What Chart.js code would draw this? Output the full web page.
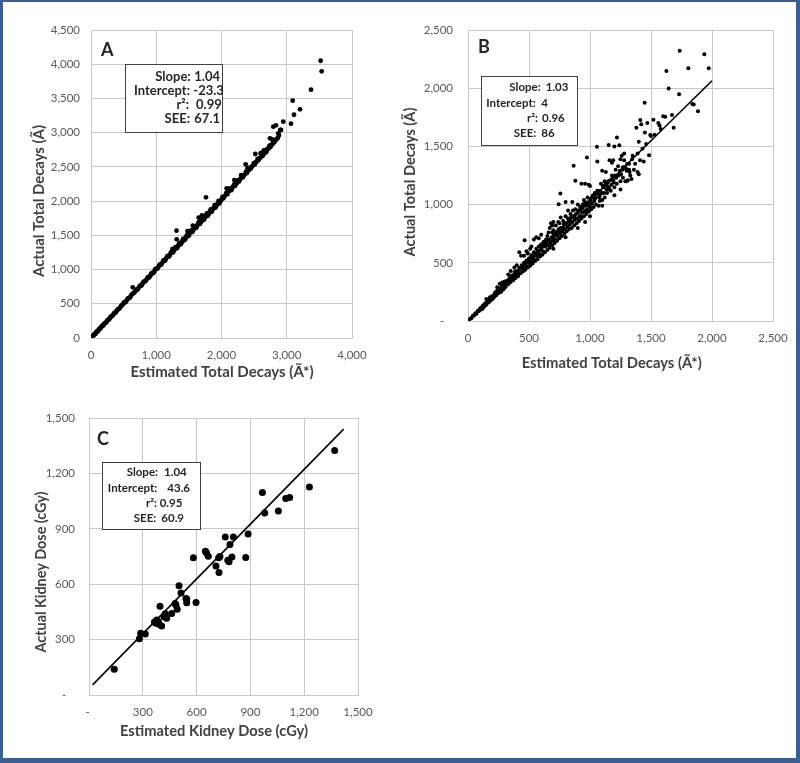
<!DOCTYPE html>
<html>
<head>
<meta charset="utf-8">
<script src="https://cdn.jsdelivr.net/npm/chart.js@4.4.0/dist/chart.umd.min.js"></script>
<style>
  html, body { margin: 0; padding: 0; background: #fff; }
  #wrap { position: relative; width: 800px; height: 763px; overflow: hidden; background: #fff; }
  .pane { position: absolute; }
  #frame { position: absolute; left: 0; top: 0; width: 800px; height: 763px; box-sizing: border-box;
           border-style: solid; border-color: #3c5e93; border-width: 2px 4px 5px 3px; pointer-events: none; }
</style>
</head>
<body>
<div id="wrap">
  <div class="pane" style="left:0;top:0;width:390px;height:385px"><canvas id="chartA"></canvas></div>
  <div class="pane" style="left:400px;top:0;width:400px;height:385px"><canvas id="chartB"></canvas></div>
  <div class="pane" style="left:0;top:385px;width:390px;height:378px"><canvas id="chartC"></canvas></div>
  <div id="frame"></div>
</div>
<script>
// panel A: estimated vs actual total decays
const aEst = [25,40,55,70,90,110,130,150,170,190,210,235,260,285,310,335,360,385,410,440,
  470,500,530,560,590,620,650,680,710,740,770,800,830,860,890,920,950,980,1010,1040,
  1070,1100,1130,1160,1190,1220,1250,1280,1310,1340,1370,1400,1430,1460,1490,1520,1550,1580,1610,1640,
  1670,1700,1730,1760,1790,1820,1850,1880,1910,1940,1970,2000,2030,2060,2090,2120,2150,2180,2210,2240,
  2270,2300,2330,2360,2390,2420,2450,2480,2510,2540,2570,2600,2630,2660,2690,2720,2750,2780,2810,2840,
  640,1310,1313,1762,2079,2196,2370,2518,2641,2743,2794,2835,2912,2947,3065,3111,3091,3203,3372,3519,
  3535,1250,1480,1560,1650,1700,2100,2300,2400,2600,2650,2700,2880,2900,2860,2780,2870,
  48,63,80,100,120,140,160,180,200,222,248,272,298,322,348,372,398,425,455,485,
  515,545,575,605,635,665,695,725,755,785,815,845,875,905,935,965,995,1025,1055,1085,
  1115,1145,1175,1205,1235,1265,1295,1325,1355,1385,1415,1445,1475,1505,1535,1565,1595,1625,1655,1685,
  1715,1745,1775,1805,1835,1865,1895,1925,1955,1985,2015,2045,2075,2105,2135,2165,2195,2225,2255,2285,
  2315,2345,2375,2405,2435,2465,2495,2525,2555,2585,2615,2645,2675,2705,2735,2765,2795];
const aAct = [28,38,57,66,92,106,133,147,175,186,214,231,265,282,318,331,366,380,418,436,
  478,512,524,571,586,628,655,688,706,752,765,812,826,872,884,935,946,1002,1008,1052,
  1068,1115,1126,1178,1188,1240,1246,1300,1306,1362,1366,1421,1427,1484,1488,1546,1549,1610,1608,1672,
  1666,1735,1726,1790,1786,1846,1844,1902,1905,1962,1966,2025,2040,2085,2102,2150,2160,2212,2226,2270,
  2288,2335,2350,2395,2410,2455,2475,2520,2535,2580,2600,2640,2660,2700,2720,2770,2790,2830,2860,2900,
  740,1568,1442,2056,2187,2308,2538,2688,2722,2918,3087,3107,3039,3160,3131,3262,3467,3341,3628,4051,
  3896,1300,1560,1640,1760,1790,2180,2380,2480,2700,2740,2760,2960,3040,2920,2900,2990,
  50,60,84,97,124,139,165,178,206,220,252,270,304,321,355,370,405,424,462,484,
  522,545,583,603,645,664,705,722,766,783,828,843,890,902,952,962,1013,1024,1075,1083,
  1138,1143,1200,1204,1262,1262,1326,1322,1388,1384,1450,1444,1510,1506,1572,1567,1635,1630,1697,1690,
  1760,1752,1820,1813,1880,1872,1942,1935,2002,1998,2062,2070,2125,2135,2185,2195,2245,2255,2305,2318,
  2368,2380,2430,2445,2490,2505,2555,2565,2618,2628,2680,2690,2745,2755,2810,2820,2870];

// panel B
const bEst = [10,20,30,40,50,60,70,80,90,100,
  110,120,130,140,150,160,170,180,190,200,
  210,220,230,240,250,260,270,280,290,300,
  305,150,180,240,260,280,300,120,200,270,
  310,320,330,340,350,360,370,380,390,400,
  410,420,430,440,450,460,470,480,490,500,
  510,520,530,540,550,560,570,580,590,600,
  420,435,464,480,520,540,560,580,600,450,
  500,540,570,350,380,400,330,460,490,510,
  610,620,630,640,650,660,670,680,690,700,
  710,720,730,740,750,760,770,780,790,800,
  810,820,830,840,850,860,870,880,890,900,
  910,920,930,940,950,960,970,980,990,1000,
  620,650,670,690,700,720,740,760,757,743,
  800,855,866,880,930,975,960,990,1000,800,
  820,880,900,920,940,960,1000,700,640,660,
  780,840,870,910,950,980,720,760,600,610,
  1010,1020,1030,1040,1050,1057,1060,1070,1080,1090,
  1100,1110,1120,1130,1140,1150,1160,1170,1180,1190,
  1200,1210,1221,1220,1230,1240,1250,1260,1270,1280,
  1290,1300,1310,1320,1330,1350,1360,1370,1380,1390,
  1400,1410,1060,1100,1153,1180,1200,1120,1250,1280,
  1300,1080,1040,1140,1160,1190,1240,1270,1320,1340,
  1412,1420,1430,1448,1440,1460,1470,1484,1494,1500,
  1520,1530,1570,1580,1600,1617,1626,1645,1672,1686,
  1735,1730,1806,1839,1850,1885,1937,1973,1560,1450,
  1400,1390,700,800,900,960,1000,1100,1200,1250,
  105,115,125,135,145,155,165,175,185,195,
  205,215,225,235,245,255,265,275,285,295,
  315,325,335,345,355,365,375,385,395,405,
  415,425,445,455,465,475,485,495,505,515,
  525,535,545,555,565,575,585,595,605,615,
  625,635,645,655,665,675,685,695,705,715,
  725,735,745,755,765,775,785,795,805,815,
  825,835,845,855,865,875,885,895,905,915,
  925,935,945,955,965,975,985,995,690,750,
  1005,1015,1025,1035,1045,1065,1075,1085,1095,1105,
  1115,1125,1135,1145,1155,1165,1175,1185,1195,1205,
  1215,1235,1245,1255,1265,1285,1295,1305,1325,1345];
const bAct = [8,22,26,45,48,66,62,88,85,110,
  102,128,122,150,140,172,162,195,180,215,
  200,238,218,262,240,280,255,305,272,320,
  290,190,205,290,320,330,340,105,190,250,
  300,345,315,370,335,390,350,405,370,430,
  385,455,410,480,425,500,440,520,460,540,
  475,565,495,590,515,620,530,640,555,660,
  590,560,694,600,640,700,720,710,740,470,
  500,530,600,430,460,480,400,560,580,620,
  570,680,590,700,610,760,630,840,650,780,
  670,820,690,850,710,890,730,860,750,900,
  770,880,790,920,800,950,820,960,840,930,
  860,980,880,1000,900,1020,920,1060,940,1050,
  640,730,800,760,850,740,780,800,1096,1004,
  1023,1023,1333,1204,1180,1405,1180,1170,1160,840,
  950,880,1000,900,970,940,980,720,650,700,
  800,860,900,950,1040,1000,760,770,620,650,
  960,1070,980,1100,1000,1496,1120,990,1080,1180,
  1040,1150,1060,1280,1100,1200,1380,1120,1250,1380,
  1150,1300,1577,1180,1330,1510,1200,1420,1230,1380,
  1200,1290,1210,1350,1250,1420,1300,1350,1660,1280,
  1260,1380,1370,1290,1511,1360,1500,1200,1390,1440,
  1200,1030,1050,1160,1130,1210,1260,1320,1300,1220,
  1726,1690,1480,1875,1370,1520,1700,1425,1597,1590,
  1730,1600,1680,1650,1760,1754,2147,1998,1769,1660,
  2322,1947,2171,1864,1860,1803,2291,2171,1700,1620,
  1540,1440,620,720,800,850,900,990,1080,1130,
  98,118,135,128,142,165,158,184,178,204,
  212,210,246,230,248,270,262,290,268,300,
  330,318,352,340,372,362,380,425,392,418,
  405,440,462,448,475,500,470,515,520,505,
  545,520,560,575,560,600,575,610,640,600,
  660,640,680,650,690,670,720,690,740,700,
  760,730,790,750,800,770,830,790,840,810,
  860,830,890,850,900,870,920,880,950,900,
  960,930,1000,940,990,960,1020,990,820,840,
  1040,1010,1080,1030,1060,1090,1060,1120,1100,1160,
  1100,1170,1130,1190,1150,1210,1170,1230,1190,1250,
  1230,1250,1290,1260,1300,1320,1310,1350,1280,1390];
const bFitX = [0, 2000];
const bFitY = [4, 2064];

// panel C: kidney dose
const cEst = [141,281,288,314,372,378,387,396,405,418,433,461,480,485,492,502,513,541,545,597,
  582,649,665,708,725,723,730,760,805,786,774,781,797,874,887,967,980,1056,1097,1119,
  1229,1370,365,425,390,545,655];
const cAct = [139,305,334,330,388,406,397,481,373,424,415,442,496,487,464,591,553,523,499,501,
  743,779,752,698,664,743,750,855,856,815,730,721,747,745,872,1097,986,997,1064,1069,
  1127,1324,395,440,383,520,770];
const cFitX = [20, 1420];
const cFitY = [55, 1440];

// tick labels
const aXTicks = ['0', '1,000', '2,000', '3,000', '4,000'];
const aYTicks = ['0', '500', '1,000', '1,500', '2,000', '2,500', '3,000', '3,500', '4,000', '4,500'];
const bXTicks = ['0', '500', '1,000', '1,500', '2,000', '2,500'];
const bYTicks = ['-   ', '500', '1,000', '1,500', '2,000', '2,500'];
const cXTicks = ['- ', '300', '600', '900', '1,200', '1,500'];
const cYTicks = ['-   ', '300', '600', '900', '1,200', '1,500'];

const statLabels = ['Slope:', 'Intercept:', 'r\u00B2:', 'SEE:'];
const aStats = ['1.04', '-23.3', '0.99', '67.1'];
const bStats = ['1.03', '4', '0.96', '86'];
const cStats = ['1.04', '43.6', '0.95', '60.9'];

const decaysX = 'Estimated Total Decays (\u00C3*)';
const decaysY = 'Actual Total Decays (\u00C3)';
const doseX = 'Estimated Kidney Dose (cGy)';
const doseY = 'Actual Kidney Dose (cGy)';

Chart.defaults.font.family = 'Lato';
const gridCol = '#c8c8c8';

const decor = {
  id: 'decor',
  afterDraw(chart, args, o) {
    const c = chart.ctx;
    c.save();
    c.textBaseline = 'middle';
    c.fillStyle = '#262626';
    c.font = 'bold 18px Lato';
    c.textAlign = 'left';
    c.fillText(o.letter, o.letterPos[0], o.letterPos[1]);
    const [bx, by, bw, bh] = o.box;
    c.fillStyle = '#fff';
    c.fillRect(bx, by, bw, bh);
    c.strokeStyle = '#404040';
    c.lineWidth = 1;
    c.strokeRect(bx + 0.5, by + 0.5, bw, bh);
    c.fillStyle = '#262626';
    c.font = 'bold ' + o.statSize + 'px Lato';
    statLabels.forEach((t, i) => {
      c.textAlign = 'right';
      c.fillText(t, o.labelRight[i], o.lineY[i]);
      c.textAlign = 'left';
      c.fillText(o.stats[i], o.valueLeft[i], o.lineY[i]);
    });
    c.fillStyle = '#404040';
    c.font = 'bold 16px Lato';
    c.textAlign = 'center';
    c.fillText(o.xTitle, o.xTitlePos[0], o.xTitlePos[1], o.xTitleW);
    c.translate(o.yTitlePos[0], o.yTitlePos[1]);
    c.rotate(-Math.PI / 2);
    c.fillText(o.yTitle, 0, 0, o.yTitleW);
    c.restore();
  }
};

function axis(min, max, step, labels, pad, fitKey, fitVal) {
  return {
    type: 'linear', min: min, max: max,
    grid: { color: gridCol, lineWidth: 1, drawTicks: false },
    border: { color: gridCol, width: 1 },
    ticks: { stepSize: step, padding: pad, color: '#595959', font: { size: 11.5 },
             callback: (v, i) => labels[i] },
    afterFit: s => { s[fitKey] = fitVal; }
  };
}

function makeChart(id, datasets, scales, padding, deco) {
  new Chart(document.getElementById(id), {
    type: 'scatter',
    data: { datasets: datasets },
    options: {
      responsive: true, maintainAspectRatio: false, animation: false,
      layout: { padding: padding },
      scales: scales,
      plugins: { legend: { display: false }, tooltip: { enabled: false }, decor: deco }
    },
    plugins: [decor]
  });
}

function pts(xs, ys) { return xs.map((x, i) => ({ x: x, y: ys[i] })); }

makeChart('chartA',
  [{ data: pts(aEst, aAct), pointRadius: 2.4, backgroundColor: '#000', borderWidth: 0 }],
  { x: axis(0, 4000, 1000, aXTicks, 10, 'height', 47),
    y: axis(0, 4500, 500, aYTicks, 11, 'width', 91) },
  { left: 0, top: 30, right: 38, bottom: 0 },
  { letter: 'A', letterPos: [101, 50], box: [125, 64, 97, 68], statSize: 13,
    labelRight: [190.7, 190, 189, 190], valueLeft: [194.3, 193.3, 196, 194.3],
    lineY: [76.7, 91, 105, 119.3], stats: aStats,
    xTitle: decaysX, xTitlePos: [222, 372], xTitleW: 183,
    yTitle: decaysY, yTitlePos: [39, 201], yTitleW: 152 });

makeChart('chartB',
  [{ data: pts(bEst, bAct), pointRadius: 2, backgroundColor: '#000', borderWidth: 0 },
   { type: 'line', data: pts(bFitX, bFitY), showLine: true, borderColor: '#000', borderWidth: 1.6,
     pointRadius: 0, fill: false }],
  { x: axis(0, 2500, 500, bXTicks, 10, 'height', 64),
    y: axis(0, 2500, 500, bYTicks, 15, 'width', 68) },
  { left: 0, top: 30, right: 27, bottom: 0 },
  { letter: 'B', letterPos: [78, 47], box: [81, 76, 96, 69], statSize: 11.5,
    labelRight: [140.7, 135.7, 138, 136.3], valueLeft: [145.7, 141.3, 142, 141.3],
    lineY: [87, 103.7, 118, 133], stats: bStats,
    xTitle: decaysX, xTitlePos: [211.7, 363], xTitleW: 180,
    yTitle: decaysY, yTitlePos: [10, 182], yTitleW: 149 });

makeChart('chartC',
  [{ data: pts(cEst, cAct), pointRadius: 3.5, backgroundColor: '#000', borderWidth: 0 },
   { type: 'line', data: pts(cFitX, cFitY), showLine: true, borderColor: '#000', borderWidth: 1.6,
     pointRadius: 0, fill: false }],
  { x: axis(0, 1500, 300, cXTicks, 10, 'height', 68),
    y: axis(0, 1500, 300, cYTicks, 14, 'width', 89) },
  { left: 0, top: 33, right: 32, bottom: 0 },
  { letter: 'C', letterPos: [97, 54], box: [102, 77, 98, 67], statSize: 11.5,
    labelRight: [158, 157.3, 157, 156.3], valueLeft: [164, 167.3, 159.7, 161.3],
    lineY: [87, 103.7, 118, 133], stats: cStats,
    xTitle: doseX, xTitlePos: [214, 346], xTitleW: 188,
    yTitle: doseY, yTitlePos: [41, 187], yTitleW: 161 });
</script>
</body>
</html>
